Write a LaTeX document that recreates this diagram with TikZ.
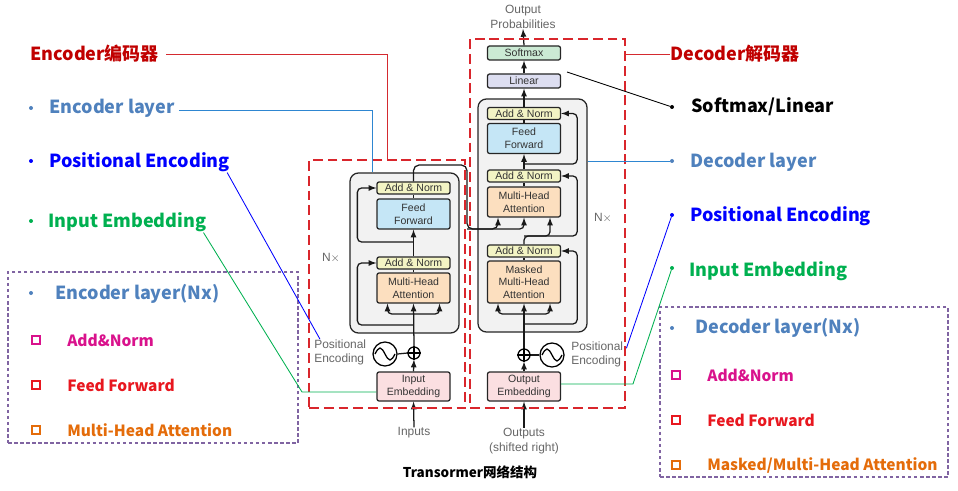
\documentclass[tikz,border=0pt]{standalone}
\usepackage{fontspec}
\setmainfont{Liberation Sans}
\newfontfamily\cjk{Noto Sans CJK SC}
\usetikzlibrary{positioning, calc}

\newlength{\px}
\setlength{\px}{0.025cm}

\definecolor{darkred}{HTML}{C00000}
\definecolor{steel}{HTML}{4F81BD}
\definecolor{peblue}{HTML}{0000FF}
\definecolor{embgreen}{HTML}{00B050}
\definecolor{anmag}{HTML}{D9128C}
\definecolor{ffred}{HTML}{E8171F}
\definecolor{mhorange}{HTML}{E46C0A}
\definecolor{listpurple}{HTML}{8064A2}
\definecolor{boxred}{HTML}{D9262C}
\definecolor{linered}{HTML}{D42A2F}
\definecolor{lineblue}{HTML}{2E86D1}
\definecolor{anfill}{HTML}{F3F4C4}
\definecolor{fffill}{HTML}{C5E6F6}
\definecolor{attfill}{HTML}{FCDFBF}
\definecolor{embfill}{HTML}{FBDFE1}
\definecolor{linfill}{HTML}{DDDEF1}
\definecolor{smfill}{HTML}{CBEAD4}

\tikzset{
  blk/.style={draw=black!85, line width=0.9pt, rounded corners=1.5pt, minimum width=73\px,
    inner sep=0pt, align=center, text=black!80, font=\fontsize{7.5pt}{9pt}\selectfont},
  anbox/.style={blk, fill=anfill, minimum height=12\px},
  ffbox/.style={blk, fill=fffill, minimum height=30\px},
  attbox/.style={blk, fill=attfill, minimum height=30\px},
  embbox/.style={blk, fill=embfill, minimum height=29\px},
  linbox/.style={blk, fill=linfill, minimum height=14\px},
  smbox/.style={blk, fill=smfill, minimum height=14\px},
  layerbox/.style={draw=black!85, line width=0.9pt, fill=black!5, rounded corners=6pt, inner sep=0pt},
  redbox/.style={draw=boxred, line width=1.4pt, dash pattern=on 7pt off 3.5pt, inner sep=0pt},
  listbox/.style={draw=listpurple, line width=0.9pt, dash pattern=on 2.5pt off 1.8pt, inner sep=0pt},
  flow/.style={-latex, line width=0.9pt, draw=black!90, rounded corners=3pt},
  wire/.style={line width=0.9pt, draw=black!90, rounded corners=3pt},
  lbl/.style={text=black!60, font=\fontsize{8.5pt}{10.5pt}\selectfont, inner sep=0pt},
  note/.style={font=\cjk\bfseries\fontsize{12.8pt}{15pt}\selectfont, anchor=base west, inner sep=0pt},
  sub/.style={font=\cjk\bfseries\fontsize{11pt}{13pt}\selectfont, anchor=base west, inner sep=0pt},
  dot/.style={circle, fill=#1, inner sep=0pt, minimum size=4\px},
  sq/.style={draw=#1, line width=1.5pt, inner sep=0pt, minimum size=8\px},
  pin/.style={line width=0.6pt}
}

\begin{document}
\begin{tikzpicture}[x=0.025cm, y=-0.025cm]
\useasboundingbox (0,0) rectangle (958,491);

% layer backgrounds
\node[layerbox, minimum width=109\px, minimum height=160\px] (enclayer) at (404.5,253) {};
\node[layerbox, minimum width=109\px, minimum height=233\px] (declayer) at (532.5,215.5) {};

% encoder blocks
\node[anbox] (encan2) at (413.5,188) {Add \& Norm};
\node[ffbox] (encff) at (413.5,214) {Feed\\Forward};
\node[anbox] (encan1) at (413.5,263) {Add \& Norm};
\node[attbox] (encmha) at (413.5,288) {Multi-Head\\Attention};
\node[embbox] (encemb) at (413.5,386.5) {Input\\Embedding};
\node[draw, circle, line width=0.9pt, minimum size=12\px, inner sep=0pt] (encplus) at (414,353) {};
\node[draw, circle, line width=0.9pt, minimum size=24\px, inner sep=0pt] (encpe) at (385,354) {};
\node[lbl, align=left, anchor=west] (encpel) at (314,352.5) {Positional\\Encoding};
\node[lbl] (encnx) at (331,258) {N$\times$};
\node[lbl] (inlbl) at (414,433) {Inputs};

% decoder blocks
\node[smbox] (decsm) at (524,53) {Softmax};
\node[linbox] (declin) at (524,81) {Linear};
\node[anbox] (decan3) at (524,113.5) {Add \& Norm};
\node[ffbox] (decff) at (524,138.5) {Feed\\Forward};
\node[anbox] (decan2) at (524,176) {Add \& Norm};
\node[attbox] (decmha) at (524,202) {Multi-Head\\Attention};
\node[anbox] (decan1) at (524,251) {Add \& Norm};
\node[attbox, minimum height=42\px] (decmmha) at (524,282) {Masked\\Multi-Head\\Attention};
\node[embbox] (decemb) at (524,386.5) {Output\\Embedding};
\node[draw, circle, line width=0.9pt, minimum size=12\px, inner sep=0pt] (decplus) at (524,355) {};
\node[draw, circle, line width=0.9pt, minimum size=24\px, inner sep=0pt] (decpe) at (552,355) {};
\node[lbl, align=left, anchor=west] (decpel) at (571,354.5) {Positional\\Encoding};
\node[lbl] (decnx) at (603,218) {N$\times$};
\node[lbl, align=center] (outlbl) at (524,441) {Outputs\\(shifted right)};
\node[lbl, align=center, anchor=south] (problbl) at (523,29) {Output\\Probabilities};

% plus signs and sine waves
\draw[line width=0.9pt] (encplus.north) -- (encplus.south) (encplus.west) -- (encplus.east);
\draw[line width=0.9pt] (decplus.north) -- (decplus.south) (decplus.west) -- (decplus.east);
\draw[line width=0.9pt] ([xshift=-10\px]encpe.center) sin ++(5,-6) cos ++(5,6) sin ++(5,6) cos ++(5,-6);
\draw[line width=0.9pt] ([xshift=-10\px]decpe.center) sin ++(5,-6) cos ++(5,6) sin ++(5,6) cos ++(5,-6);
\draw[wire] (encpe.east) -- (encplus.west);
\draw[wire] (decplus.east) -- (decpe.west);

% encoder flow
\coordinate (encsplit) at (413.5,314);
\coordinate (encres1) at (413.5,325);
\coordinate (encres2) at (413.5,242);
\coordinate (encout) at (467,165);
\coordinate (cross) at (467,229);
\draw[flow] (inlbl.north) -- (encemb.south);
\draw[flow] (encemb.north) -- (encplus.south);
\draw[flow] (encplus.north) -- (encmha.south);
\draw[flow] (encsplit) -| ([xshift=-26\px]encmha.south);
\draw[flow] (encsplit) -| ([xshift=26\px]encmha.south);
\draw[flow] (encres1) -| ([xshift=-19\px]encan1.west) -- (encan1.west);
\draw[wire] (encmha.north) -- (encan1.south);
\draw[flow] (encan1.north) -- (encff.south);
\draw[flow] (encres2) -| ([xshift=-19\px]encan2.west) -- (encan2.west);
\draw[wire] (encff.north) -- (encan2.south);
\draw[flow, rounded corners=4pt] (encan2.north) |- (encout) -- (cross) -| ([xshift=-26\px]decmha.south);
\draw[flow] (cross) -| (decmha.south);

% decoder flow
\coordinate (decsplit) at (524,314);
\coordinate (decres1) at (524,324);
\coordinate (dectee) at (524,236);
\coordinate (decres3) at (524,164);
\draw[flow] (outlbl.north) -- (decemb.south);
\draw[flow] (decemb.north) -- (decplus.south);
\draw[flow] (decplus.north) -- (decmmha.south);
\draw[flow] (decsplit) -| ([xshift=-26\px]decmmha.south);
\draw[flow] (decsplit) -| ([xshift=26\px]decmmha.south);
\draw[flow] (decres1) -| ([xshift=16\px]decan1.east) -- (decan1.east);
\draw[wire] (decmmha.north) -- (decan1.south);
\draw[flow] (decan1.north) -- (dectee) -| ([xshift=26\px]decmha.south);
\draw[flow] (dectee) -| ([xshift=16\px]decan2.east) -- (decan2.east);
\draw[wire] (decmha.north) -- (decan2.south);
\draw[flow] (decan2.north) -- (decff.south);
\draw[flow] (decres3) -| ([xshift=16\px]decan3.east) -- (decan3.east);
\draw[wire] (decff.north) -- (decan3.south);
\draw[flow] (decan3.north) -- (declin.south);
\draw[flow] (declin.north) -- (decsm.south);
\draw[flow] (decsm.north) -- (problbl.south);

% red dashed frames
\node[redbox, minimum width=156\px, minimum height=248\px] (encbox) at (387,284) {};
\node[redbox, minimum width=155\px, minimum height=369\px] (decbox) at (547.5,223.5) {};

% left notes
\node[note, text=darkred] (encttl) at (30,61) {Encoder编码器};
\node[dot=steel] (b1) at (31,108) {};
\node[note, text=steel] (enl) at (49,114) {Encoder layer};
\node[dot=peblue] (b2) at (31,161) {};
\node[note, text=peblue] (pel) at (49,168) {Positional Encoding};
\node[dot=embgreen] (b3) at (31,221) {};
\node[note, text=embgreen] (iel) at (48,228) {Input Embedding};
\node[listbox, minimum width=290\px, minimum height=171\px] (enclist) at (153,357.5) {};
\node[dot=steel] (b4) at (31,293) {};
\node[note, text=steel] (enlnx) at (55,299) {Encoder layer(Nx)};
\node[sq=anmag] (s1) at (36,340) {};
\node[sub, text=anmag] (anl) at (67,346) {Add\&Norm};
\node[sq=ffred] (s2) at (36,385) {};
\node[sub, text=ffred] (ffl) at (67,391) {Feed Forward};
\node[sq=mhorange] (s3) at (36,430) {};
\node[sub, text=mhorange] (mhl) at (67,436) {Multi-Head Attention};

% right notes
\node[note, text=darkred] (decttl) at (670,61) {Decoder解码器};
\node[dot=black] (b5) at (672,107) {};
\node[note] (sml) at (691,113) {Softmax/Linear};
\node[dot=steel] (b6) at (672,161) {};
\node[note, text=steel] (dl) at (690,168) {Decoder layer};
\node[dot=peblue] (b7) at (672,215) {};
\node[note, text=peblue] (per) at (690,222) {Positional Encoding};
\node[dot=embgreen] (b8) at (672,268) {};
\node[note, text=embgreen] (ier) at (689,276) {Input Embedding};
\node[listbox, minimum width=288\px, minimum height=170\px] (declist) at (804,392) {};
\node[dot=steel] (b9) at (672,328) {};
\node[note, text=steel] (dlnx) at (695,333) {Decoder layer(Nx)};
\node[sq=anmag] (s4) at (676,375) {};
\node[sub, text=anmag] (anr) at (707,381) {Add\&Norm};
\node[sq=ffred] (s5) at (676,420) {};
\node[sub, text=ffred] (ffr) at (707,426) {Feed Forward};
\node[sq=mhorange] (s6) at (676,465) {};
\node[sub, text=mhorange] (mhr) at (707,470) {Masked/Multi-Head Attention};

\node[font=\cjk\bfseries\fontsize{9.6pt}{11pt}\selectfont, anchor=base, inner sep=0pt] (title) at (470,477) {Transormer网络结构};

% pointers
\coordinate (smlin) at (567,72);
\coordinate (ienc) at (302,392);
\coordinate (idec) at (633,384);
\draw[pin, linered] ([xshift=7\px]encttl.east) -| (encbox.north);
\draw[pin, linered] (decttl.west) -- (decttl.west -| decbox.east);
\draw[pin, lineblue] ([xshift=4\px,yshift=-2\px]enl.east) -| ([xshift=-32.5\px]enclayer.north);
\draw[pin, lineblue] (b6) -- (b6 -| declayer.east);
\draw[pin, peblue] ([xshift=-3\px]pel.south east) -- ([xshift=6\px]encpel.north west);
\draw[pin, peblue] (b7) -- ([xshift=3\px,yshift=-7\px]decpel.north east);
\draw[pin, embgreen] ([xshift=-3\px]iel.south east) -- (ienc) -- (ienc -| encemb.west);
\draw[pin, embgreen] (b8) -- (idec) -- (idec -| decemb.east);
\draw[pin, black] (smlin) -- (b5);
\end{tikzpicture}
\end{document}
